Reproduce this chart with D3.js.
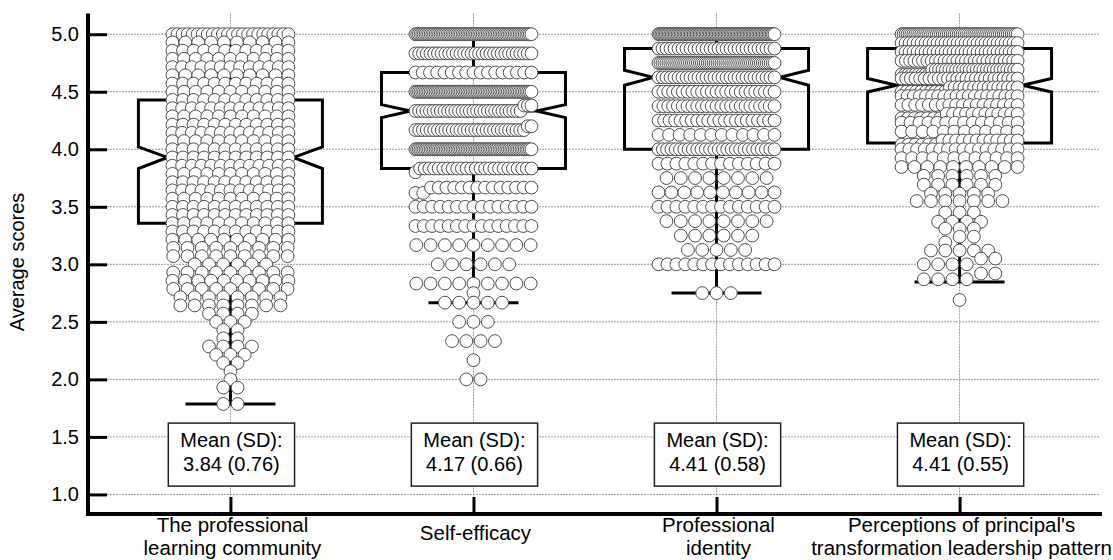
<!DOCTYPE html>
<html>
<head>
<meta charset="utf-8">
<script src="https://cdn.jsdelivr.net/npm/d3@7"></script>
<style>
body { margin: 0; background: #fff; }
text { font-family: "Liberation Sans", Arial, sans-serif; fill: #000; }
</style>
</head>
<body>
<svg id="chart" width="1113" height="560"></svg>
<script>
var width = 1113;
var height = 560;

// categories and labels
var categories = ["plc", "efficacy", "identity", "leadership"];
var catLines = [
  ["The professional", "learning community"],
  ["Self-efficacy"],
  ["Professional", "identity"],
  ["Perceptions of principal's", "transformation leadership pattern"]
];
var yTicks = [1.0, 1.5, 2.0, 2.5, 3.0, 3.5, 4.0, 4.5, 5.0];

// summary values
var means = [3.84, 4.17, 4.41, 4.41];
var sds = [0.76, 0.66, 0.58, 0.55];
var q1s = [3.357, 3.833, 4.0, 4.055];
var medians = [3.929, 4.333, 4.625, 4.557];
var q3s = [4.429, 4.667, 4.875, 4.875];
var notchLo = [3.832, 4.275, 4.557, 4.498];
var notchHi = [4.02, 4.388, 4.687, 4.615];
var whiskLo = [1.786, 2.667, 2.75, 2.846];
var whiskHi = [5.0, 5.0, 5.0, 5.0];

// individual scores: level + how many respondents
var plcLevels = [5.0, 4.929, 4.857, 4.786, 4.714, 4.643, 4.571, 4.5, 4.429, 4.357, 4.286, 4.214, 4.143, 4.071, 4.0,
  3.929, 3.857, 3.786, 3.714, 3.643, 3.571, 3.5, 3.429, 3.357, 3.286, 3.214, 3.143, 3.071, 3.0,
  2.929, 2.857, 2.786, 2.714, 2.643, 2.571, 2.5, 2.429, 2.357, 2.286, 2.214, 2.143, 2.071, 2.0, 1.929, 1.786];
var plcCounts = [24, 10, 12, 11, 13, 10, 12, 11, 12, 13, 11, 12, 13, 11, 12,
  12, 13, 11, 12, 13, 11, 12, 12, 11, 12, 10, 9, 9, 6,
  9, 10, 9, 8, 8, 4, 3, 2, 2, 4, 3, 2, 1, 1, 2, 2];

var effLevels = [5.0, 4.833, 4.667, 4.5, 4.38, 4.333, 4.2, 4.167, 4.0, 3.833, 3.8, 3.667, 3.62, 3.5, 3.333, 3.167,
  3.0, 2.833, 2.75, 2.667, 2.5, 2.333, 2.167, 2.0];
var effCounts = [70, 32, 17, 70, 3, 30, 2, 30, 70, 25, 1, 14, 2, 15, 15, 9,
  6, 9, 1, 5, 3, 4, 1, 2];

var idLevels = [5.0, 4.875, 4.75, 4.625, 4.5, 4.375, 4.25, 4.125, 4.0, 3.875, 3.75, 3.625, 3.5, 3.375, 3.25, 3.125, 3.0, 2.75];
var idCounts = [80, 30, 60, 30, 25, 25, 22, 12, 28, 14, 8, 10, 14, 8, 6, 5, 14, 3];

var ldLevels = [5.0, 4.923, 4.846, 4.769, 4.692, 4.65, 4.615, 4.538, 4.5, 4.462, 4.385, 4.308, 4.27, 4.231, 4.154,
  4.077, 4.04, 4.0, 3.923, 3.846, 3.769, 3.692, 3.615, 3.55, 3.45, 3.37, 3.31, 3.24, 3.19, 3.12,
  3.05, 3.0, 2.92, 2.87, 2.69];
var ldCounts = [60, 30, 30, 28, 26, 9, 26, 15, 10, 20, 18, 12, 7, 14, 12,
  12, 6, 16, 12, 10, 6, 6, 5, 7, 3, 4, 3, 2, 1, 5,
  2, 4, 2, 4, 1];

var groupLevels = [plcLevels, effLevels, idLevels, ldLevels];
var groupCounts = [plcCounts, effCounts, idCounts, ldCounts];

var svg = d3.select("#chart");

var x = d3.scalePoint().domain(categories).range([88, 1102]).padding(0.586);
var y = d3.scaleLinear().domain([0.83, 5.18]).range([514, 13.5]);

var boxHalf = 92;     // half width of box
var notchHalf = 63;   // half width at the notch
var capHalf = 45;
var dotR = 6.4;
var dotGap = 14.3;
var maxSpan = 116;
var rowTol = 0.055;

// gridlines
var grid = svg.append("g");
grid.selectAll(".hg").data(yTicks).enter().append("line")
  .attr("x1", 107).attr("x2", 1100)
  .attr("y1", function(d) { return y(d); }).attr("y2", function(d) { return y(d); })
  .attr("stroke", "#9a9a9a").attr("stroke-width", 1).attr("stroke-dasharray", "2,1");
grid.selectAll(".vg").data(categories).enter().append("line")
  .attr("x1", function(d) { return x(d); }).attr("x2", function(d) { return x(d); })
  .attr("y1", y(5.18)).attr("y2", 497)
  .attr("stroke", "#9a9a9a").attr("stroke-width", 1).attr("stroke-dasharray", "2,1");

// notched boxes + whiskers
var boxes = svg.append("g").attr("fill", "none").attr("stroke", "#000").attr("stroke-width", 3);
categories.forEach(function(c, i) {
  var cx = x(c);
  var pts = [
    [cx - boxHalf, y(q3s[i])], [cx + boxHalf, y(q3s[i])],
    [cx + boxHalf, y(notchHi[i])], [cx + notchHalf, y(medians[i])], [cx + boxHalf, y(notchLo[i])],
    [cx + boxHalf, y(q1s[i])], [cx - boxHalf, y(q1s[i])],
    [cx - boxHalf, y(notchLo[i])], [cx - notchHalf, y(medians[i])], [cx - boxHalf, y(notchHi[i])]
  ];
  boxes.append("path").attr("d", d3.line()(pts) + "Z").attr("stroke-linejoin", "miter");
  boxes.append("line").attr("x1", cx - notchHalf).attr("x2", cx + notchHalf)
    .attr("y1", y(medians[i])).attr("y2", y(medians[i]));
  boxes.append("line").attr("x1", cx).attr("x2", cx).attr("y1", y(q3s[i])).attr("y2", y(whiskHi[i]));
  boxes.append("line").attr("x1", cx).attr("x2", cx).attr("y1", y(q1s[i])).attr("y2", y(whiskLo[i]));
  boxes.append("line").attr("x1", cx - capHalf).attr("x2", cx + capHalf)
    .attr("y1", y(whiskHi[i])).attr("y2", y(whiskHi[i]));
  boxes.append("line").attr("x1", cx - capHalf).attr("x2", cx + capHalf)
    .attr("y1", y(whiskLo[i])).attr("y2", y(whiskLo[i]));
});

// put the scores into rows: close values share a row, low values on the left
function makeRows(levels, counts) {
  var vals = [];
  levels.forEach(function(v, i) {
    for (var k = 0; k < counts[i]; k++) vals.push(v);
  });
  vals.sort(function(a, b) { return b - a; });
  var rows = [];
  var cur = null;
  vals.forEach(function(v) {
    if (!cur || cur.top - v > rowTol) {
      cur = { top: v, vals: [] };
      rows.push(cur);
    }
    cur.vals.push(v);
  });
  rows.forEach(function(r) { r.vals.sort(function(a, b) { return a - b; }); });
  return rows;
}

var dots = svg.append("g");
categories.forEach(function(c, i) {
  var cx = x(c);
  var rows = makeRows(groupLevels[i], groupCounts[i]);
  var pts = [];
  rows.forEach(function(r) {
    var n = r.vals.length;
    var s = n > 1 ? Math.min(dotGap, maxSpan / (n - 1)) : 0;
    r.vals.forEach(function(v, k) {
      pts.push({ cx: cx + (k - (n - 1) / 2) * s, v: v });
    });
  });
  dots.append("g").selectAll("circle").data(pts).enter().append("circle")
    .attr("cx", function(d) { return d.cx; })
    .attr("cy", function(d) { return y(d.v); })
    .attr("r", dotR)
    .attr("fill", "#fff")
    .attr("stroke", "#4d4d4d")
    .attr("stroke-width", 1);
});

// axes
var yAxis = d3.axisLeft(y).tickValues(yTicks).tickFormat(d3.format(".1f")).tickSizeInner(-19).tickSizeOuter(0).tickPadding(9);
var gy = svg.append("g").attr("transform", "translate(88,0)").call(yAxis);
gy.select(".domain").remove();
gy.selectAll(".tick line").attr("stroke", "#000").attr("stroke-width", 3);
gy.selectAll(".tick text").style("font-size", "20px").style("font-family", "Liberation Sans, Arial, sans-serif");

var xAxis = d3.axisBottom(x).tickSizeInner(-17).tickSizeOuter(0).tickFormat("");
var gx = svg.append("g").attr("transform", "translate(0,514)").call(xAxis);
gx.select(".domain").remove();
gx.selectAll(".tick line").attr("stroke", "#000").attr("stroke-width", 3);

svg.append("line").attr("x1", 88).attr("x2", 88).attr("y1", y(5.18)).attr("y2", 516)
  .attr("stroke", "#000").attr("stroke-width", 4);
svg.append("line").attr("x1", 86).attr("x2", 1102).attr("y1", 514).attr("y2", 514)
  .attr("stroke", "#000").attr("stroke-width", 4);

// category labels
categories.forEach(function(c, i) {
  var lines = catLines[i];
  var base = lines.length == 1 ? 540 : 532;
  var t = svg.append("text").attr("text-anchor", "middle").style("font-size", "20.5px");
  lines.forEach(function(l, k) {
    t.append("tspan").attr("x", x(c) + 2).attr("y", base + k * 22.5).text(l);
  });
});

// y title
svg.append("text")
  .attr("transform", "translate(24,262) rotate(-90)")
  .attr("text-anchor", "middle")
  .style("font-size", "20px")
  .text("Average scores");

// mean (sd) boxes
var labelTop = y(1.62);
categories.forEach(function(c, i) {
  var cx = x(c) + 1;
  var g = svg.append("g");
  var rect = g.append("rect");
  var t1 = g.append("text").attr("x", cx).attr("y", labelTop + 24).attr("text-anchor", "middle")
    .style("font-size", "20px").text("Mean (SD):");
  var t2 = g.append("text").attr("x", cx).attr("y", labelTop + 48).attr("text-anchor", "middle")
    .style("font-size", "20px").text(means[i].toFixed(2) + " (" + sds[i].toFixed(2) + ")");
  var w = Math.max(t1.node().getComputedTextLength(), t2.node().getComputedTextLength()) + 24;
  rect.attr("x", cx - w / 2).attr("y", labelTop).attr("width", w).attr("height", 63)
    .attr("fill", "#fff").attr("stroke", "#222").attr("stroke-width", 1.5);
});
</script>
</body>
</html>
